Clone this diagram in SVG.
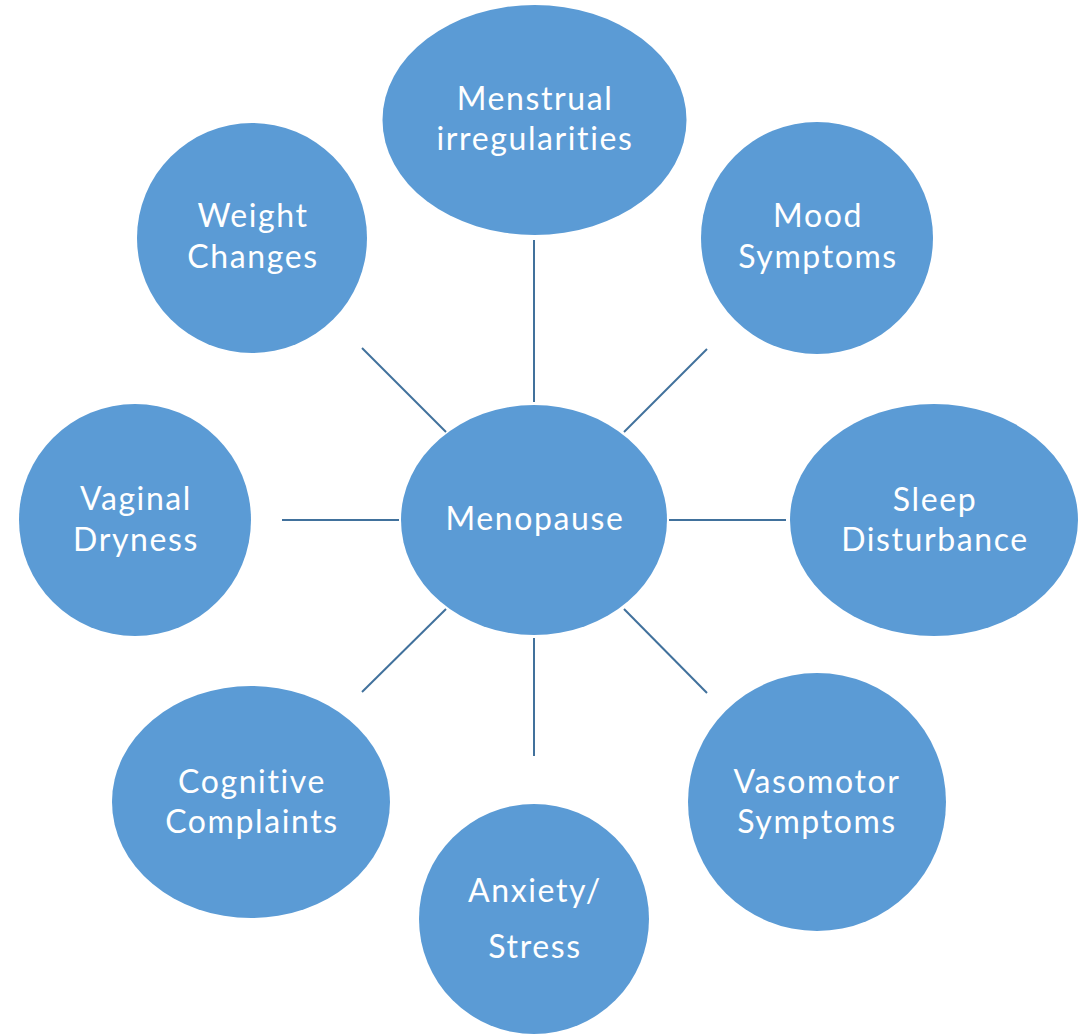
<svg xmlns="http://www.w3.org/2000/svg" width="1079" height="1035" viewBox="0 0 1079 1035">
<style>
.n{fill:#5B9BD5}
.t{fill:#fff;font-family:Lato,"Liberation Sans",sans-serif;font-size:32px;letter-spacing:1.6px;font-variant-ligatures:none;text-anchor:middle}
.c line{stroke:#41719C;stroke-width:2}
</style>
<rect width="1079" height="1035" fill="#fff"/>
<g class="c" id="connectors">
<line x1="534" y1="240" x2="534" y2="402"/>
<line x1="707" y1="349" x2="624" y2="432"/>
<line x1="362" y1="348" x2="446" y2="432"/>
<line x1="669" y1="520" x2="786" y2="520"/>
<line x1="282" y1="520" x2="399" y2="520"/>
<line x1="446" y1="609" x2="362" y2="692"/>
<line x1="624" y1="609" x2="707" y2="693"/>
<line x1="534" y1="638" x2="534" y2="756"/>
</g>
<g id="menopause"><ellipse class="n" cx="534" cy="520" rx="133" ry="115"/><text class="t" x="535" y="530">Menopause</text></g>
<g id="menstrual"><ellipse class="n" cx="534.5" cy="120" rx="152" ry="115"/><text class="t" x="535" y="110">Menstrual</text><text class="t" x="535" y="150">irregularities</text></g>
<g id="mood"><circle class="n" cx="817" cy="238" r="116"/><text class="t" x="818" y="227">Mood</text><text class="t" x="818" y="268">Symptoms</text></g>
<g id="weight"><circle class="n" cx="252" cy="238" r="115"/><text class="t" x="253" y="227">Weight</text><text class="t" x="253" y="268">Changes</text></g>
<g id="sleep"><ellipse class="n" cx="934" cy="520" rx="144" ry="116"/><text class="t" x="935" y="511">Sleep</text><text class="t" x="935" y="551">Disturbance</text></g>
<g id="vaginal"><circle class="n" cx="135" cy="520" r="116"/><text class="t" x="136" y="510">Vaginal</text><text class="t" x="136" y="551">Dryness</text></g>
<g id="cognitive"><ellipse class="n" cx="251" cy="802" rx="139" ry="116"/><text class="t" x="252" y="793">Cognitive</text><text class="t" x="252" y="833">Complaints</text></g>
<g id="vasomotor"><circle class="n" cx="817" cy="802" r="129"/><text class="t" x="817" y="793">Vasomotor</text><text class="t" x="817" y="833">Symptoms</text></g>
<g id="anxiety"><circle class="n" cx="534" cy="919" r="115"/><text class="t" x="535" y="902">Anxiety/</text><text class="t" x="535" y="958">Stress</text></g>
</svg>
